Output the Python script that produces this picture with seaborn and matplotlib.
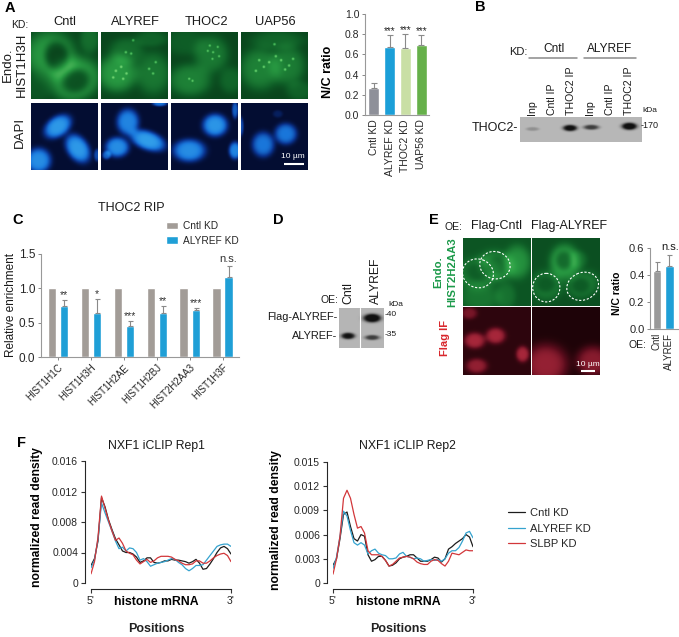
import numpy as np
import pandas as pd
import matplotlib
matplotlib.use("Agg")
import matplotlib.pyplot as plt
from matplotlib.patches import Ellipse
import seaborn as sns

W, H = 679, 637

## panel A bars
a_labels = ['Cntl KD', 'ALYREF KD', 'THOC2 KD', 'UAP56 KD']
a_values = [0.27, 0.67, 0.66, 0.69]
a_err_top = [0.32, 0.79, 0.80, 0.79]
a_stars = ['', '***', '***', '***']
a_ticks = [0.0, 0.2, 0.4, 0.6, 0.8, 1.0]

## panel C bars
c_genes = ['HIST1H1C', 'HIST1H3H', 'HIST1H2AE', 'HIST1H2BJ', 'HIST2H2AA3', 'HIST1H3F']
c_cntl = [1.0, 1.0, 1.0, 1.0, 1.0, 1.0]
c_alyref = [0.74, 0.64, 0.45, 0.64, 0.69, 1.17]
c_err_top = [0.83, 0.85, 0.52, 0.74, 0.72, 1.33]
c_stars = ['**', '*', '***', '**', '***', 'n.s.']

## panel E bars
e_labels = ['Cntl', 'ALYREF']
e_values = [0.43, 0.465]
e_err_top = [0.495, 0.545]

## panel F curves, 41 positions along the mRNA
f_pos = [i / 40 for i in range(41)]
rep1_cntl = [.0023,.0032,.0055,.0112,.0100,.0083,.0070,.0058,.0050,.0042,.0040,.0040,.0038,.0034,.0027,.0029,.0033,.0033,.0027,.0026,.0027,.0029,.0029,.0031,.0030,.0030,.0029,.0028,.0026,.0028,.0031,.0026,.0018,.0019,.0025,.0032,.0040,.0046,.0048,.0045,.0038]
rep1_alyref = [.0020,.0030,.0058,.0105,.0092,.0080,.0068,.0055,.0045,.0047,.0042,.0046,.0045,.0040,.0030,.0032,.0028,.0022,.0024,.0026,.0027,.0028,.0030,.0032,.0031,.0027,.0024,.0019,.0016,.0019,.0023,.0023,.0024,.0030,.0036,.0042,.0048,.0050,.0051,.0051,.0048]
rep1_slbp = [.0012,.0028,.0060,.0114,.0098,.0082,.0068,.0056,.0059,.0052,.0042,.0039,.0037,.0030,.0025,.0028,.0031,.0027,.0029,.0033,.0035,.0035,.0035,.0034,.0031,.0029,.0026,.0024,.0024,.0025,.0029,.0029,.0026,.0026,.0029,.0033,.0036,.0038,.0039,.0036,.0028]
rep2_cntl = [.0022,.0030,.0055,.0085,.0088,.0070,.0055,.0052,.0060,.0058,.0035,.0027,.0029,.0033,.0033,.0028,.0021,.0022,.0025,.0030,.0032,.0033,.0035,.0035,.0031,.0027,.0027,.0027,.0029,.0032,.0031,.0026,.0030,.0042,.0045,.0049,.0052,.0055,.0060,.0057,.0045]
rep2_alyref = [.0018,.0032,.0058,.0089,.0083,.0065,.0050,.0047,.0050,.0047,.0036,.0040,.0042,.0037,.0035,.0034,.0030,.0030,.0031,.0036,.0038,.0033,.0032,.0030,.0031,.0030,.0027,.0028,.0029,.0028,.0029,.0027,.0030,.0037,.0040,.0040,.0044,.0052,.0062,.0064,.0056]
rep2_slbp = [.0011,.0030,.0058,.0105,.0115,.0105,.0085,.0068,.0070,.0062,.0040,.0035,.0035,.0035,.0033,.0028,.0021,.0023,.0027,.0031,.0032,.0033,.0032,.0030,.0026,.0024,.0023,.0023,.0027,.0029,.0028,.0024,.0021,.0027,.0037,.0036,.0035,.0038,.0041,.0040,.0040]
f_names = ['Cntl KD', 'ALYREF KD', 'SLBP KD']
f_colors = ['#1c1c1c', '#35a3cf', '#d2373a']

## micrographs and blots: x, y, rx, ry, angle, strength in panel fractions
dots_a2 = [(.22,.58),(.30,.52),(.38,.62),(.33,.70),(.37,.30),(.45,.32),(.48,.12),(.82,.45),(.78,.62),(.72,.55),(.18,.68)]
dots_a3 = [(.55,.28),(.63,.30),(.70,.22),(.62,.40),(.72,.36),(.32,.73),(.27,.70),(.58,.20)]
dots_a4 = [(.27,.42),(.34,.52),(.42,.45),(.22,.58),(.60,.42),(.72,.50),(.78,.40),(.52,.36),(.50,.18),(.66,.56)]
g_cntl = [(.28,.34,.38,.36,0,.42),(.66,.70,.38,.32,-20,.48),(.38,.36,.18,.22,-10,-.42),(.67,.73,.22,.18,-20,-.42),(.88,.10,.15,.22,0,.2),(.10,.85,.2,.2,0,.08)]
g_alyref = [(.24,.62,.30,.28,0,.42),(.78,.62,.26,.32,0,.25),(.38,.28,.26,.20,0,.2),(.75,.10,.25,.12,0,.15)] + [(x,y,.02,.02,0,.42) for x,y in dots_a2]
g_thoc2 = [(.60,.33,.26,.28,0,.26),(.28,.72,.32,.24,0,.3),(.90,.72,.18,.2,0,.16),(.2,.15,.3,.2,0,.12)] + [(x,y,.018,.018,0,.42) for x,y in dots_a3]
g_uap56 = [(.28,.55,.30,.32,0,.3),(.70,.50,.26,.30,0,.27),(.55,.12,.4,.14,0,.16),(.88,.88,.2,.15,0,.14)] + [(x,y,.02,.02,0,.45) for x,y in dots_a4]
d_cntl = [(.40,.35,.24,.16,-35,.82),(.70,.68,.25,.17,55,.82),(.11,.86,.2,.2,0,.75),(.99,.78,.05,.1,0,.4)]
d_alyref = [(.40,.28,.18,.21,0,.7),(.70,.56,.29,.15,20,.85),(.24,.66,.19,.16,0,.75),(.88,.0,.12,.05,0,.6),(.08,.78,.07,.07,0,.5)]
d_thoc2 = [(.66,.33,.2,.18,0,.8),(.27,.71,.26,.18,0,.75),(.96,.71,.1,.14,0,.7),(.96,.1,.05,.14,0,.5)]
d_uap56 = [(.33,.62,.18,.2,0,.62),(.67,.46,.18,.17,0,.62),(.0,.35,.04,.15,0,.4),(.55,.16,.08,.06,0,.14)]
e_g1 = [(.23,.52,.34,.24,-10,.22),(.50,.40,.27,.22,20,.24),(.80,.35,.2,.25,0,.3),(.25,.88,.3,.2,0,.16),(.63,.85,.15,.2,0,.14),(.22,.50,.19,.14,0,-.18),(.50,.40,.16,.14,0,-.18)]
e_g2 = [(.48,.35,.22,.26,0,.42),(.21,.70,.25,.23,0,.2),(.75,.68,.25,.2,-25,.2),(.20,.68,.14,.12,0,-.14),(.72,.70,.13,.11,0,-.14),(.47,.33,.12,.14,0,-.28),(.68,.32,.14,.14,0,.14)]
e_r1 = [(.09,.10,.12,.09,0,.32),(.17,.50,.16,.12,0,.5),(.48,.43,.15,.12,0,.5),(.20,.87,.16,.11,0,.42),(.88,.70,.1,.12,0,.5)]
e_r2 = [(.2,.85,.33,.3,0,.5),(.90,.80,.25,.22,0,.45)]
b_bands = [(.10,.48,.055,.08,0,.3),(.41,.44,.065,.14,0,.95),(.585,.41,.07,.11,0,.72),(.90,.37,.07,.16,0,1.0)]
dl_bands = [(.20,.70,.17,.09,0,.9),(.74,.25,.22,.12,0,1.0),(.74,.74,.18,.07,0,.7)]

sns.set_style("ticks")
plt.rcParams['font.family'] = ['Liberation Sans', 'DejaVu Sans']
plt.rcParams['axes.linewidth'] = 0.8

fig = plt.figure(figsize=(W / 100, H / 100), dpi=100)


def px_axes(x0, y0, x1, y1):
    return fig.add_axes([x0 / W, 1 - y1 / H, (x1 - x0) / W, (y1 - y0) / H])


def field(blobs, base, shrink=1.0, n=120):
    yy, xx = np.mgrid[0:1:n * 1j, 0:1:n * 1j]
    out = np.full((n, n), float(base))
    for x, y, rx, ry, ang, amp in blobs:
        t = np.deg2rad(ang)
        u = (xx - x) * np.cos(t) + (yy - y) * np.sin(t)
        v = -(xx - x) * np.sin(t) + (yy - y) * np.cos(t)
        out += amp * np.exp(-((u / (rx * shrink)) ** 2 + (v / (ry * shrink)) ** 2) ** 2)
    return np.clip(out, 0, 1)


def image(box, blobs, base, cmap, shrink=1.0):
    ax = px_axes(*box)
    ax.imshow(field(blobs, base, shrink), cmap=cmap, vmin=0, vmax=1, extent=(0, 1, 1, 0),
              aspect='auto', interpolation='bilinear')
    ax.axis('off')
    return ax


green = sns.blend_palette(['#021c0c', '#0e5c26', '#2a9e44', '#6ed070'], as_cmap=True)
blue = sns.blend_palette(['#030826', '#0a3490', '#1a78dc', '#3cb0f0'], as_cmap=True)
red = sns.blend_palette(['#120204', '#5a0c1c', '#b02a3e', '#d04a5a'], as_cmap=True)
grey = sns.blend_palette(['#c2c2c2', '#808080', '#101010'], as_cmap=True)


def style_small(ax):
    sns.despine(ax=ax)
    ax.spines['left'].set_color('#999999')
    ax.spines['bottom'].set_color('#999999')
    ax.set_xlabel('')
    ax.set_ylabel('')
    ax.patch.set_alpha(0)


## A images
cols = [(31, 98), (101, 168), (171, 238), (241, 308)]
for (x0, x1), g, d in zip(cols, [g_cntl, g_alyref, g_thoc2, g_uap56], [d_cntl, d_alyref, d_thoc2, d_uap56]):
    image((x0, 32, x1, 99), g, .22, green)
    image((x0, 103, x1, 170), d, .04, blue, shrink=.92)

## A bars
ax = px_axes(365, 14, 429, 115)
sns.barplot(x=a_labels, y=a_values, hue=a_labels, palette=['#8e9099', '#1b9fd8', '#c9dfa5', '#66b04a'],
            width=0.69, saturation=1, legend=False, ax=ax)
ax.errorbar(range(4), a_values, yerr=[[0] * 4, np.array(a_err_top) - np.array(a_values)], fmt='none',
            ecolor='#8a8a8a', elinewidth=0.8, capsize=2, capthick=0.8)
for i, s in enumerate(a_stars):
    ax.text(i, a_err_top[i] + 0.04, s, ha='center', va='center', fontsize=7, color='#222222')
ax.set_xlim(-0.547, 3.48)
ax.set_ylim(0, 1)
ax.set_yticks(a_ticks)
ax.set_yticklabels(['%.1f' % v for v in a_ticks], fontsize=7.5)
ax.tick_params(axis='x', rotation=90, labelsize=7.5, length=0, pad=3)
ax.tick_params(axis='y', length=2, width=0.7, color='#888888', pad=2)
style_small(ax)

## blots
image((520, 117, 641, 142), b_bands, .08, grey)
image((339, 308, 384, 348), dl_bands, .1, grey)

## C bars
c_df = pd.DataFrame({'gene': c_genes * 2, 'value': c_cntl + c_alyref,
                     'kd': ['Cntl KD'] * 6 + ['ALYREF KD'] * 6})
ax = px_axes(41, 254, 239, 357)
sns.barplot(data=c_df, x='gene', y='value', hue='kd', palette=['#a29c97', '#1f9fd6'],
            width=0.74, gap=0.32, saturation=1, ax=ax)
off = 6.1 / 32.9
ax.errorbar(np.arange(6) + off, c_alyref, yerr=[[0] * 6, np.array(c_err_top) - np.array(c_alyref)], fmt='none',
            ecolor='#8a8a8a', elinewidth=0.8, capsize=1.8, capthick=0.8)
for i, s in enumerate(c_stars):
    ax.text(i + off, c_err_top[i] + (0.10 if s == 'n.s.' else 0.07), s, ha='center', va='center',
            fontsize=8 if s == 'n.s.' else 7.5, color='#333333')
ax.set_xlim(-0.517, 5.5)
ax.set_ylim(0, 1.5)
ax.set_yticks([0, 0.5, 1.0, 1.5])
ax.set_yticklabels(['0.0', '0.5', '1.0', '1.5'], fontsize=8.5)
ax.set_xticks(range(6))
ax.set_xticklabels(c_genes, rotation=45, ha='right', rotation_mode='anchor', fontsize=7)
ax.tick_params(axis='both', length=2, width=0.7, color='#888888', pad=2)
style_small(ax)
ax.legend(loc='upper left', bbox_to_anchor=(166 / W, 1 - 221 / H), bbox_transform=fig.transFigure,
          frameon=False, fontsize=7.3, handlelength=1.2, handleheight=0.7, labelspacing=0.45,
          handletextpad=0.5, borderpad=0, borderaxespad=0)

## E images
ax_e1 = image((463, 238, 531, 306), e_g1, .3, green)
ax_e2 = image((532, 238, 600, 306), e_g2, .27, green)
image((463, 307, 531, 375), e_r1, .13, red)
image((532, 307, 600, 375), e_r2, .06, red)
for a, outlines in [(ax_e1, [(.22, .52, .46, .42, 20), (.47, .40, .45, .40, 15)]),
                    (ax_e2, [(.21, .73, .40, .42, 0), (.745, .71, .48, .40, -25)])]:
    for x, y, w, h, ang in outlines:
        a.add_patch(Ellipse((x, y), w, h, angle=ang, fill=False, ec='white', ls=(0, (2, 1.5)), lw=0.8))

## E bars
ax = px_axes(650, 248, 678, 329)
sns.barplot(x=e_labels, y=e_values, hue=e_labels, palette=['#9a9a9a', '#1f9fd6'], width=0.69,
            saturation=1, legend=False, ax=ax)
ax.errorbar(range(2), e_values, yerr=[[0, 0], np.array(e_err_top) - np.array(e_values)], fmt='none',
            ecolor='#8a8a8a', elinewidth=0.8, capsize=1.8, capthick=0.8)
ax.set_xlim(-0.55, 1.7)
ax.set_ylim(0, 0.6)
ax.set_yticks([0, 0.2, 0.4, 0.6])
ax.set_yticklabels(['0.0', '0.2', '0.4', '0.6'], fontsize=8)
ax.tick_params(axis='x', rotation=90, labelsize=7, length=0, pad=3)
ax.tick_params(axis='y', length=2, width=0.7, color='#888888', pad=2)
style_small(ax)


## F curves
def curve_panel(box, curves, ymax, yticks, ylabels, legend=False):
    ax = px_axes(*box)
    df = pd.DataFrame({'pos': f_pos * 3, 'density': sum(curves, []),
                       'kd': [n for n in f_names for _ in f_pos]})
    sns.lineplot(data=df, x='pos', y='density', hue='kd', palette=f_colors, linewidth=0.9,
                 legend=legend, ax=ax)
    sns.despine(ax=ax, offset=4.3)
    ax.set_xlim(0, 1)
    ax.set_ylim(0, ymax)
    ax.set_yticks(yticks)
    ax.set_yticklabels(ylabels, fontsize=7.5)
    ax.set_xticks([0, 1])
    ax.set_xticklabels(["5'", "3'"], fontsize=7.5)
    ax.tick_params(axis='both', length=3, width=0.8, color='#333333', pad=2)
    ax.set_xlabel('')
    ax.set_ylabel('')
    ax.patch.set_alpha(0)
    return ax


curve_panel((91, 461, 231, 583), [rep1_cntl, rep1_alyref, rep1_slbp], 0.016,
            [0, 0.004, 0.008, 0.012, 0.016], ['0', '0.004', '0.008', '0.012', '0.016'])
ax = curve_panel((333, 462, 473, 583), [rep2_cntl, rep2_alyref, rep2_slbp], 0.015,
                 [0, 0.003, 0.006, 0.009, 0.012, 0.015], ['0', '0.003', '0.006', '0.009', '0.012', '0.015'],
                 legend=True)
ax.legend(loc='upper left', bbox_to_anchor=(508 / W, 1 - 508 / H), bbox_transform=fig.transFigure,
          frameon=False, fontsize=8, handlelength=1.5, labelspacing=0.5, handletextpad=0.5,
          borderpad=0, borderaxespad=0)

## labels, in figure pixels
over = fig.add_axes([0, 0, 1, 1], zorder=10)
over.set_xlim(0, W)
over.set_ylim(H, 0)
over.axis('off')


def lab(x, y, s, size=7.5, rot=0, color='#1a1a1a', weight='normal', ha='center', va='center'):
    over.text(x, y, s, fontsize=size, rotation=rot, color=color, fontweight=weight, ha=ha, va=va)


for x, y, s in [(10, 8, 'A'), (480, 7, 'B'), (18, 220, 'C'), (278, 220, 'D'), (434, 220, 'E'), (21, 443, 'F')]:
    lab(x, y, s, size=10.5, weight='bold', color='black')

lab(20, 25, 'KD:', 7.5)
for x, s in zip([65, 135, 206, 275], ['Cntl', 'ALYREF', 'THOC2', 'UAP56']):
    lab(x, 22, s, 9.3)
lab(8, 65, 'Endo.', 9.5, 90)
lab(22, 65, 'HIST1H3H', 9.5, 90)
lab(20, 132, 'DAPI', 9.5, 90)
lab(328, 72, 'N/C ratio', 9, 90, weight='bold', color='black')
lab(293, 157, '10 µm', 6, color='white')
over.plot([284, 304], [163.5, 163.5], color='white', lw=1.5, solid_capstyle='butt')

lab(518, 52, 'KD:', 8)
lab(554, 49, 'Cntl', 8.6)
lab(610, 49, 'ALYREF', 8.6)
over.plot([529, 577], [58, 58], color='#8a8a8a', lw=1.1)
over.plot([583.5, 636], [58, 58], color='#8a8a8a', lw=1.1)
for x, s in zip([532, 552, 571, 590, 610, 629], ['Inp', 'Cntl IP', 'THOC2 IP', 'Inp', 'Cntl IP', 'THOC2 IP']):
    lab(x, 115, s, 7.6, 90, va='bottom')
lab(650, 111, 'kDa', 6)
lab(650, 125, '-170', 6.5)
lab(495, 128, 'THOC2-', 9)

lab(131, 208, 'THOC2 RIP', 9)
lab(11, 305, 'Relative enrichment', 8.5, 90)

lab(329, 300, 'OE:', 7.5)
lab(348, 304, 'Cntl', 8.8, 90, va='bottom')
lab(376, 304, 'ALYREF', 8.8, 90, va='bottom')
lab(396, 304, 'kDa', 6)
lab(391, 315, '-40', 6)
lab(391, 334, '-35', 6)
lab(337, 317, 'Flag-ALYREF-', 7.9, ha='right')
lab(337, 336, 'ALYREF-', 7.9, ha='right')
over.plot([360, 360], [308, 348], color='white', lw=0.8)

lab(453, 227, 'OE:', 7.5)
lab(497, 226, 'Flag-Cntl', 9)
lab(569, 226, 'Flag-ALYREF', 9)
lab(438, 272, 'Endo.', 8.2, 90, color='#1c9a4a', weight='bold')
lab(452, 272, 'HIST2H2AA3', 8.2, 90, color='#1c9a4a', weight='bold')
lab(445, 338, 'Flag IF', 8, 90, color='#d8262c', weight='bold')
lab(617, 293, 'N/C ratio', 7.5, 90, weight='bold', color='black')
lab(637, 345, 'OE:', 7.5)
lab(670, 247, 'n.s.', 8)
lab(588, 365, '10 µm', 6, color='white')
over.plot([581, 595], [371, 371], color='white', lw=1.5, solid_capstyle='butt')

lab(156, 446, 'NXF1 iCLIP Rep1', 8.8)
lab(407, 446, 'NXF1 iCLIP Rep2', 8.8)
lab(37, 517, 'normalized read density', 8.7, 90, weight='bold', color='black')
lab(276, 520, 'normalized read density', 8.7, 90, weight='bold', color='black')
lab(156, 602, 'histone mRNA', 8.8, weight='bold', color='black')
lab(398, 602, 'histone mRNA', 8.8, weight='bold', color='black')
lab(156, 629, 'Positions', 9, weight='bold', color='#222222')
lab(398, 629, 'Positions', 9, weight='bold', color='#222222')

fig.savefig('out.png', dpi=100)
